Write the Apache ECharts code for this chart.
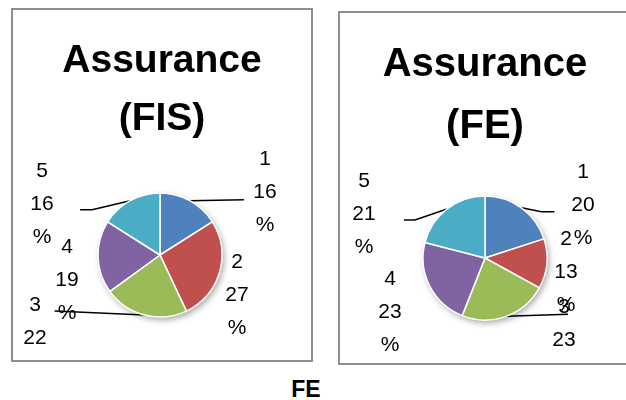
<!DOCTYPE html>
<html>
<head>
<meta charset="utf-8">
<script src="https://cdn.jsdelivr.net/npm/echarts@6/dist/echarts.min.js"></script>
<style>
  html, body { margin: 0; padding: 0; width: 626px; height: 400px; overflow: hidden; background: #fff; }
  .box { position: absolute; box-sizing: border-box; border: 2px solid #8e8e8e; }
  #fis { left: 11px; top: 8px; width: 302px; height: 354px; }
  #fe { left: 338px; top: 11px; width: 294px; height: 354px; }
  #foot { position: absolute; left: 286px; top: 378px; width: 40px; text-align: center;
          font: bold 23px/23px "Liberation Sans", Arial, sans-serif; color: #000; }
</style>
</head>
<body>
<div id="fis" class="box"></div>
<div id="fe" class="box"></div>
<div id="foot">FE</div>
<script>
// slice names and shares (%)
const sliceNames = ['1', '2', '3', '4', '5'];
const fisValues = [16, 27, 22, 19, 16];
const feValues = [20, 13, 23, 23, 21];

const colors = ['#4F81BD', '#C0504D', '#9BBB59', '#8064A2', '#4BACC6'];
const font = '"Liberation Sans", Arial, sans-serif';

// where the labels sit (chart px) and how the leader lines bend from the slice edge
const fisLabelPos = [[252, 182], [224, 285], [22, 328], [54, 270], [29, 194]];
const fisLineBends = [[[54, -1], [54, -1]], null, [[-90, -4], [-90, -4]], null, [[-38, 9], [-50, 9]]];
const feLabelPos = [[243, 192], [226, 259], [224, 327], [50, 299], [24, 201]];
const feLineBends = [[[20, 4], [33, 4]], null, [[62, -2], [62, -2]], null, [[-32, 11], [-43, 11]]];

function drawPie(el, title, tStyle, values, center, labelPos, lineBends) {
    let chart = echarts.init(el, null, { renderer: 'canvas' });
    let total = values.reduce((a, b) => a + b, 0);
    chart.setOption({
        animation: false,
        title: {
            text: title,
            left: 'center',
            top: tStyle.top,
            padding: 0,
            textStyle: { fontFamily: font, fontWeight: 'bold', fontSize: tStyle.size, lineHeight: tStyle.lh, color: '#000' }
        },
        series: [
            {
                // plain disc underneath, only there to cast the soft shadow
                type: 'pie',
                silent: true,
                center: center,
                radius: 62,
                label: { show: false },
                labelLine: { show: false },
                itemStyle: { color: '#fff', shadowBlur: 6, shadowColor: 'rgba(0,0,0,0.35)', shadowOffsetX: 2, shadowOffsetY: 3 },
                data: [total]
            },
            {
                type: 'pie',
                center: center,
                radius: 62,
                startAngle: 90,
                clockwise: true,
                avoidLabelOverlap: false,
                silent: true,
                itemStyle: { borderColor: '#fff', borderWidth: 1.5 },
                label: {
                    show: true,
                    position: 'outside',
                    formatter: p => p.name + '\n' + p.value + '\n%',
                    fontFamily: font,
                    fontSize: 21,
                    lineHeight: 33,
                    color: '#000'
                },
                labelLine: { show: true, lineStyle: { color: '#000', width: 1.5 } },
                labelLayout: function (p) {
                    let i = p.dataIndex;
                    let out = { x: labelPos[i][0], y: labelPos[i][1], align: 'center', verticalAlign: 'middle' };
                    if (p.labelLinePoints && lineBends[i]) {
                        let s = p.labelLinePoints[0];
                        out.labelLinePoints = [s].concat(lineBends[i].map(d => [s[0] + d[0], s[1] + d[1]]));
                    }
                    return out;
                },
                data: values.map((v, i) => ({
                    name: sliceNames[i],
                    value: v,
                    itemStyle: { color: colors[i] },
                    labelLine: { show: lineBends[i] != null }
                }))
            }
        ]
    });
}

drawPie(document.getElementById('fis'), 'Assurance\n(FIS)', { top: 22, size: 39, lh: 58 },
    fisValues, [147, 245], fisLabelPos, fisLineBends);
drawPie(document.getElementById('fe'), 'Assurance\n(FE)', { top: 21, size: 40, lh: 62 },
    feValues, [145, 245], feLabelPos, feLineBends);
</script>
</body>
</html>
